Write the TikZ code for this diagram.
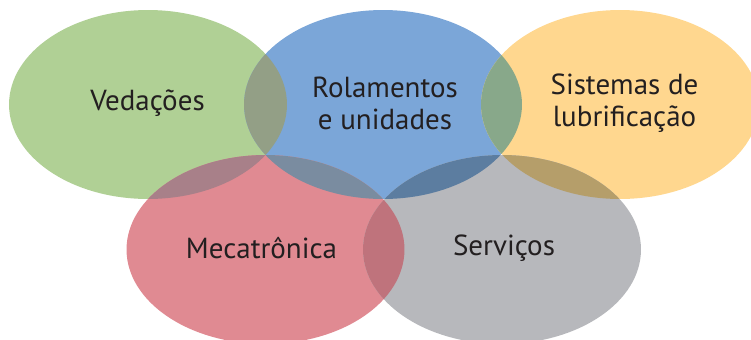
\documentclass[tikz,border=0pt]{standalone}
\usepackage{fontspec}
\setmainfont{PT Sans}
\usetikzlibrary{positioning}

\definecolor{vedGreen}{HTML}{B0D095}
\definecolor{rolBlue}{HTML}{7BA6D8}
\definecolor{lubYellow}{HTML}{FFD78F}
\definecolor{mecRed}{HTML}{E08A92}
\definecolor{serGray}{HTML}{B7B8BC}
\definecolor{mixVR}{HTML}{939F86}
\definecolor{mixRL}{HTML}{88A88A}
\definecolor{mixVM}{HTML}{A88089}
\definecolor{mixRM}{HTML}{7A8CA0}
\definecolor{mixRS}{HTML}{5C7DA0}
\definecolor{mixLS}{HTML}{B59E6A}
\definecolor{mixMS}{HTML}{BF737C}
\definecolor{inkText}{HTML}{231F20}

\tikzset{
  petal/.style={x radius=2.78cm, y radius=1.89cm},
  petaltext/.style={text=inkText, align=center, inner sep=0pt,
    font=\fontsize{16.5}{18.2}\selectfont}
}

\begin{document}
\begin{tikzpicture}[x=0.02cm, y=-0.02cm]
    \clip (0,0) rectangle (751,339);
    \coordinate (ved) at (148,104.5);
    \coordinate (rol) at (383,104.5);
    \coordinate (lub) at (620,104.5);
    \coordinate (mec) at (265.5,249.5);
    \coordinate (ser) at (502,249.5);

    % circles first, then the lenses where two of them meet
    \foreach \c/\col in {ved/vedGreen, rol/rolBlue, lub/lubYellow, mec/mecRed, ser/serGray}{
      \fill [\col] (\c) ellipse [petal];
       }
    \foreach \a/\b/\col in {ved/rol/mixVR, rol/lub/mixRL, ved/mec/mixVM, rol/mec/mixRM, rol/ser/mixRS, lub/ser/mixLS, mec/ser/mixMS}{
      \begin{scope}
        \clip (\a) ellipse [petal];
        \fill [\col] (\b) ellipse [petal];
      \end{scope}
       }

    \node [petaltext] (vedText) at (147.5,103) {Vedações};
    \node [petaltext] (rolText) at (385,103) {Rolamentos\\e unidades};
    \node [petaltext] (lubText) at (624.5,103) {Sistemas de\\lubrificação};
    \node [petaltext] (mecText) at (261.5,248.5) {Mecatrônica};
    \node [petaltext] (serText) at (504,248.5) {Serviços};

  \end{tikzpicture}
\end{document}
